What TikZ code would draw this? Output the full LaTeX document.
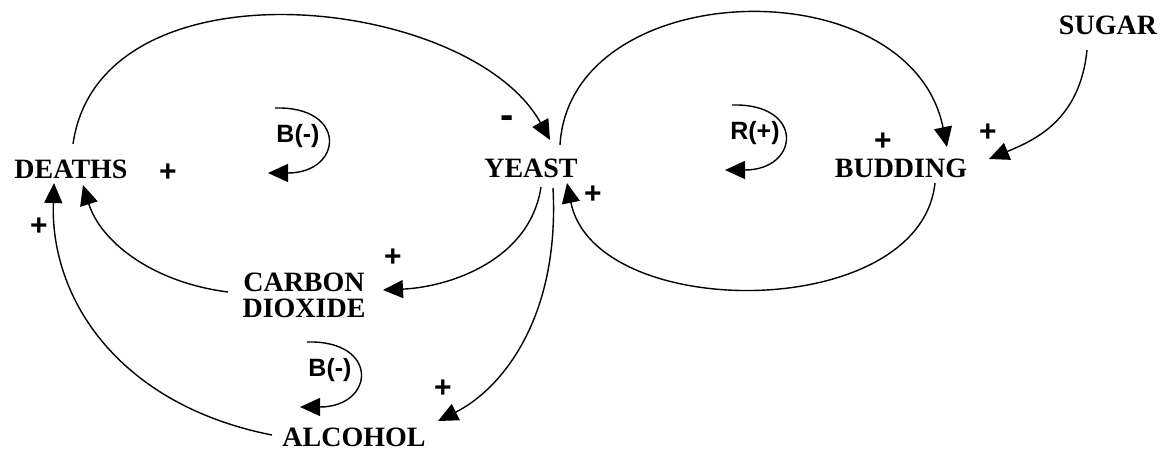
\documentclass[tikz,border=0pt]{standalone}
\usepackage{fontspec}
\setmainfont{Liberation Serif}
\setsansfont{Liberation Sans}
\usetikzlibrary{arrows.meta}
\tikzset{every node/.append style={font=\bfseries\fontsize{14}{13}\selectfont, inner sep=0pt}}
\tikzset{sign/.style={font=\sffamily\bfseries\fontsize{15}{15}\selectfont},
  looplabel/.style={font=\sffamily\bfseries\fontsize{12.5}{12.5}\selectfont}}

\begin{document}
\begin{tikzpicture}[x=0.5pt, y=-0.5pt, >={Triangle[length=10pt,width=9pt]}, line width=0.7pt]
    \useasboundingbox (0,0) rectangle (1164,451);
    \node (deaths) at (71,169) {DEATHS};
    \node (yeast) at (531,168) {YEAST};
    \node (budding) at (901,168) {BUDDING};
    \node (sugar) at (1108,25) {SUGAR};
    \node[align=center] (carbon) at (304,295) {CARBON\\DIOXIDE};
    \node (alcohol) at (354,437) {ALCOHOL};
    \draw[->] ([shift={(2,-25)}]deaths.center) .. controls (100,-45) and (470,-5) .. ([shift={(19,-28)}]yeast.center);
    \draw[->] ([shift={(29,-23)}]yeast.center) .. controls (570,-25) and (910,-35) .. ([shift={(46,-21)}]budding.center);
    \draw[->] ([shift={(34,15)}]budding.center) .. controls (920,323) and (595,323) .. ([shift={(36,15)}]yeast.center);
    \draw[->] ([shift={(-21,25)}]sugar.center) .. controls (1080,120) and (1035,140) .. ([shift={(88,-9)}]budding.center);
    \draw[->] ([shift={(10,19)}]yeast.center) .. controls (530,260) and (450,287) .. ([shift={(79,-5)}]carbon.center);
    \draw[->] ([shift={(22,20)}]yeast.center) .. controls (560,320) and (500,390) .. ([shift={(84,-16)}]alcohol.center);
    \draw[->] ([shift={(-76,-3)}]carbon.center) .. controls (150,282) and (100,240) .. ([shift={(12,16)}]deaths.center);
    \draw[->] ([shift={(-82,-2)}]alcohol.center) .. controls (120,405) and (50,300) .. ([shift={(-17,14)}]deaths.center);
    \node[looplabel] (b1) at (298,136) {B(-)};
    \node[looplabel] (b2) at (330,370) {B(-)};
    \node[looplabel] (r1) at (755,133) {R(+)};
    \foreach \l in {b1,b2,r1}
        \draw[->] ([shift={(-23,-28)}]\l.center) .. controls ([shift={(50,-30)}]\l.center) and ([shift={(45,37)}]\l.center) .. ([shift={(-30,37)}]\l.center);
    \node[sign] (s1) at (168,173) {+};
    \node[sign, font=\sffamily\bfseries\fontsize{20}{20}\selectfont] (s2) at (507,122) {-};
    \node[sign] (s3) at (393,258) {+};
    \node[sign] (s4) at (443,389) {+};
    \node[sign] (s5) at (39,227) {+};
    \node[sign] (s6) at (593,195) {+};
    \node[sign] (s7) at (883,142) {+};
    \node[sign] (s8) at (988,133) {+};
\end{tikzpicture}
\end{document}
